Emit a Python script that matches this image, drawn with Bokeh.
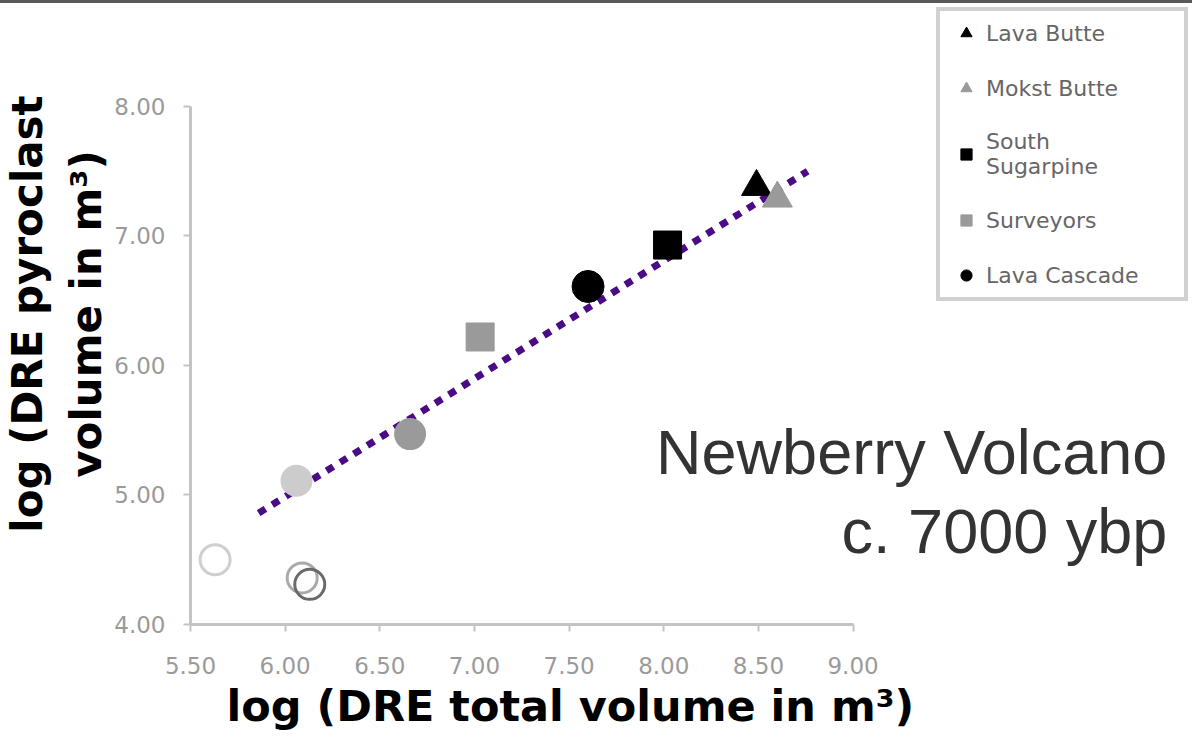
from bokeh.plotting import figure
from bokeh.layouts import column
from bokeh.models import (Range1d, FixedTicker, NumeralTickFormatter, Legend,
                          LegendItem, Label, Div)
from bokeh.embed import file_html
from bokeh.resources import INLINE

# ---------------- data ----------------
series_names = ["Lava Butte", "Mokst Butte", "South\nSugarpine", "Surveyors", "Lava Cascade"]
series_x = [8.49, 8.60, 8.02, 7.03, 7.60]
series_y = [7.38, 7.29, 6.93, 6.22, 6.61]
series_marker = ["triangle", "triangle", "square", "square", "circle"]
series_color = ["#000000", "#9a9a9a", "#000000", "#9a9a9a", "#000000"]
series_size = [30, 30, 28, 28, 32]

other_x = [6.66, 6.06]
other_y = [5.47, 5.11]
other_color = ["#9a9a9a", "#cccccc"]

open_x = [5.63, 6.09, 6.13]
open_y = [4.50, 4.36, 4.31]
open_color = ["#cfcfcf", "#aaaaaa", "#6a6a6a"]

trend_x = [5.86, 8.76]
trend_y = [4.86, 7.50]

x_ticks = [5.5, 6.0, 6.5, 7.0, 7.5, 8.0, 8.5, 9.0]
y_ticks = [4.0, 5.0, 6.0, 7.0, 8.0]

x_title = "log (DRE total volume in m³)"
y_title = "log (DRE pyroclast\nvolume in m³)"
note_1 = "Newberry Volcano"
note_2 = "c. 7000 ybp"

# ---------------- figure ----------------
p = figure(width=1192, height=735, x_range=Range1d(5.5, 10.793), y_range=Range1d(4.0, 8.795),
           output_backend="svg", toolbar_location=None,
           min_border_left=188, min_border_right=0, min_border_top=0, min_border_bottom=114)
p.background_fill_color = "white"
p.border_fill_color = "white"
p.outline_line_color = None
p.grid.visible = False

for ax, ticks, bounds in ((p.xaxis[0], x_ticks, (5.5, 9.0)), (p.yaxis[0], y_ticks, (4.0, 8.0))):
    ax.ticker = FixedTicker(ticks=ticks)
    ax.formatter = NumeralTickFormatter(format="0.00")
    ax.bounds = bounds
    ax.axis_line_color = "#c4c4c4"
    ax.axis_line_width = 3
    ax.major_tick_line_color = "#c4c4c4"
    ax.major_tick_line_width = 2
    ax.major_tick_in = 0
    ax.major_tick_out = 7
    ax.minor_tick_line_color = None
    ax.major_label_text_font = "DejaVu Sans"
    ax.major_label_text_font_size = "23px"
    ax.major_label_text_color = "#9a9a9a"
    ax.axis_label_text_font = "DejaVu Sans"
    ax.axis_label_text_font_style = "bold"
    ax.axis_label_text_font_size = "42px"
    ax.axis_label_text_color = "#000000"
    ax.axis_label_standoff = 0

p.yaxis.axis_label = y_title
p.xaxis.major_label_standoff = 25
p.yaxis.major_label_standoff = 18

# x-axis title, placed below the axis
p.title.text = x_title
p.title_location = "below"
p.title.align = "left"
p.title.offset = 36
p.title.standoff = 4
p.title.text_font = "DejaVu Sans"
p.title.text_font_style = "bold"
p.title.text_font_size = "43px"
p.title.text_color = "#000000"

# trend line
p.line(trend_x, trend_y, line_color="#4b0a86", line_width=7, line_dash="8 8", line_cap="butt")

# other unlabeled points
p.scatter(other_x, other_y, marker="circle", size=32, fill_color=other_color, line_color=None)
p.scatter(open_x, open_y, marker="circle", size=30, fill_color=None, line_color=open_color, line_width=3)

items = []
for name, x, y, m, c, s in zip(series_names, series_x, series_y, series_marker, series_color, series_size):
    r = p.scatter([x], [y], marker=m, size=s, fill_color=c, line_color=c)
    items.append(LegendItem(label=name, renderers=[r]))

legend = Legend(items=items, location="top_right", margin=4, padding=8,
                glyph_width=36, glyph_height=28, label_height=20, label_width=190,
                label_standoff=2, spacing=27,
                label_text_font="DejaVu Sans", label_text_font_size="22px",
                label_text_color="#666666",
                border_line_color="#a3a3a3", border_line_width=4,
                background_fill_color="white", background_fill_alpha=1.0)
p.add_layout(legend, "center")

# annotation text
p.add_layout(Label(x=10.66, y=5.33, text=note_1, text_align="right", text_baseline="alphabetic",
                   text_font="Liberation Sans", text_font_size="63px", text_color="#333333"))
p.add_layout(Label(x=10.66, y=4.72, text=note_2, text_align="right", text_baseline="alphabetic",
                   text_font="Liberation Sans", text_font_size="63px", text_color="#333333"))

# top dark strip
strip = Div(text="", width=1192, height=3, margin=0,
            styles={"background-color": "#595959"})

layout = column(strip, p, spacing=0)
open("out.html", "w").write(file_html(layout, INLINE))
